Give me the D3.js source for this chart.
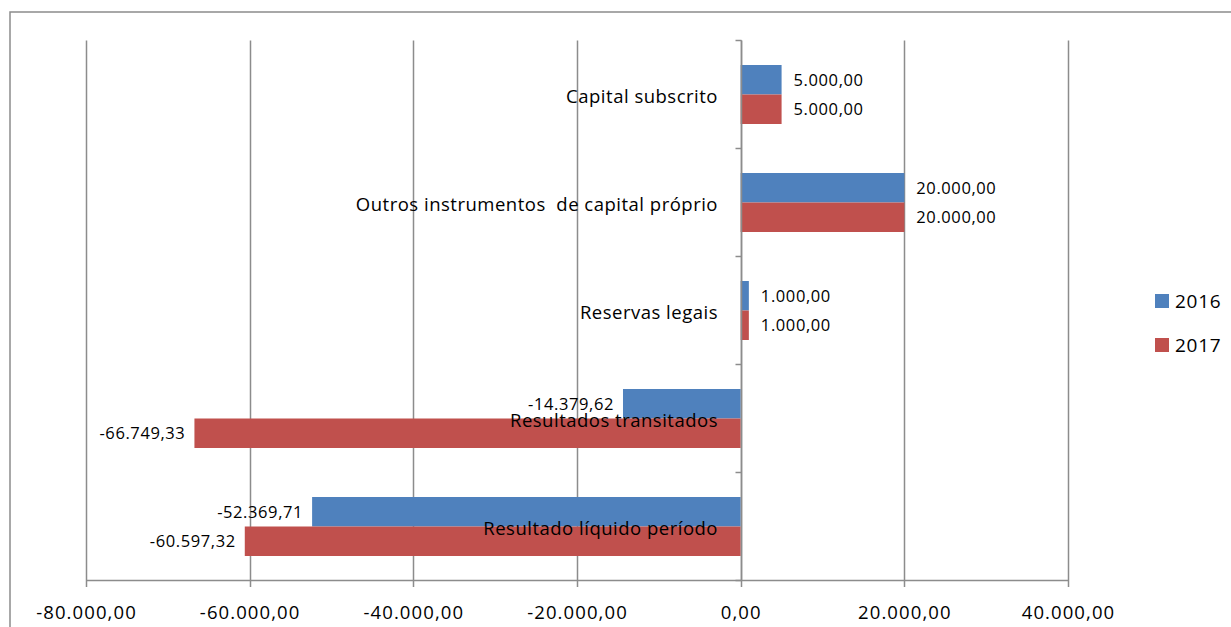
<!DOCTYPE html>
<html><head><meta charset="utf-8">
<script src="https://cdn.jsdelivr.net/npm/d3@7"></script>
<style>body{margin:0;background:#fff}svg{display:block}text{font-family:"Open Sans","Liberation Sans",Arial,sans-serif;fill:#000;white-space:pre}</style>
</head><body>
<script>
const categories = ["Capital subscrito","Outros instrumentos  de capital próprio","Reservas legais","Resultados transitados","Resultado líquido período"];
const series = ["2016","2017"];
const values2016 = [5000, 20000, 1000, -14379.62, -52369.71];
const values2017 = [5000, 20000, 1000, -66749.33, -60597.32];
const xTicks = [-80000,-60000,-40000,-20000,0,20000,40000];
const colors = ["#4F81BD","#C0504D"];

const W=1231,H=627;
const svg=d3.select("body").append("svg").attr("width",W).attr("height",H);
svg.append("rect").attr("x",10).attr("y",12).attr("width",1240).attr("height",640).attr("fill","none").attr("stroke","#8c8c8c").attr("stroke-width",1.5);

const x=d3.scaleLinear().domain([-80000,40000]).range([86,1068]);
const y=d3.scaleBand().domain(categories).range([40.5,580.5]);
const fmt=v=>{const s=Math.abs(v).toFixed(2).split(".");const i=s[0].replace(/\B(?=(\d{3})+(?!\d))/g,".");return (v<0?"-":"")+i+","+s[1];};

// gridlines
svg.append("g").selectAll("line").data(xTicks).join("line")
 .attr("x1",d=>Math.round(x(d))+0.5).attr("x2",d=>Math.round(x(d))+0.5)
 .attr("y1",40.5).attr("y2",587).attr("stroke","#8c8c8c").attr("stroke-width",1.5);
// x axis line
svg.append("line").attr("x1",x(-80000)).attr("x2",x(40000)).attr("y1",580.5).attr("y2",580.5).attr("stroke","#8c8c8c").attr("stroke-width",1.5);
// x tick labels
svg.append("g").selectAll("text").data(xTicks).join("text")
 .attr("x",d=>x(d)+0.5).attr("y",619).attr("text-anchor","middle").attr("font-size",18.5).attr("letter-spacing",1.1).text(d=>fmt(d));

const data=[values2016,values2017];
const groupH=59, barH=groupH/2;
const g=svg.append("g");
series.forEach((s,si)=>{
  categories.forEach((c,ci)=>{
    const v=data[si][ci];
    const yc=y(c)+y.bandwidth()/2;
    const y0=yc-groupH/2+si*barH;
    g.append("rect").attr("x",x(Math.min(0,v))).attr("width",Math.abs(x(v)-x(0)))
     .attr("y",y0).attr("height",barH).attr("fill",colors[si]);
  });
});
// y axis line at 0
const x0=Math.round(x(0))+0.5;
svg.append("line").attr("x1",x0).attr("x2",x0).attr("y1",40.5).attr("y2",580.5).attr("stroke","#8c8c8c").attr("stroke-width",1.5);
// y ticks
const bounds=categories.map(c=>y(c)).concat([y.range()[1]]);
svg.append("g").selectAll("line").data(bounds).join("line")
 .attr("x1",x0-6).attr("x2",x0).attr("y1",d=>d).attr("y2",d=>d).attr("stroke","#8c8c8c").attr("stroke-width",1.5);
// category labels
svg.append("g").selectAll("text").data(categories).join("text")
 .attr("x",718).attr("y",c=>y(c)+y.bandwidth()/2+2).attr("dy","0.35em").attr("text-anchor","end").attr("font-size",18.5).attr("letter-spacing",0.5)
 .text(c=>c);
// data labels
series.forEach((s,si)=>{
  categories.forEach((c,ci)=>{
    const v=data[si][ci];
    const yc=y(c)+y.bandwidth()/2-groupH/2+si*barH+barH/2;
    svg.append("text").attr("x",v>=0?x(v)+12:x(v)-9).attr("y",yc).attr("dy","0.35em")
     .attr("text-anchor",v>=0?"start":"end").attr("font-size",16.5).attr("letter-spacing",0.6).text(fmt(v));
  });
});
// legend
const lg=svg.append("g");
series.forEach((s,i)=>{
  const ly=301+i*44;
  lg.append("rect").attr("x",1155).attr("y",ly-7).attr("width",14).attr("height",14).attr("fill",colors[i]);
  lg.append("text").attr("x",1175).attr("y",ly).attr("dy","0.35em").attr("font-size",19).attr("letter-spacing",0.75).text(s);
});
</script>
</body></html>
